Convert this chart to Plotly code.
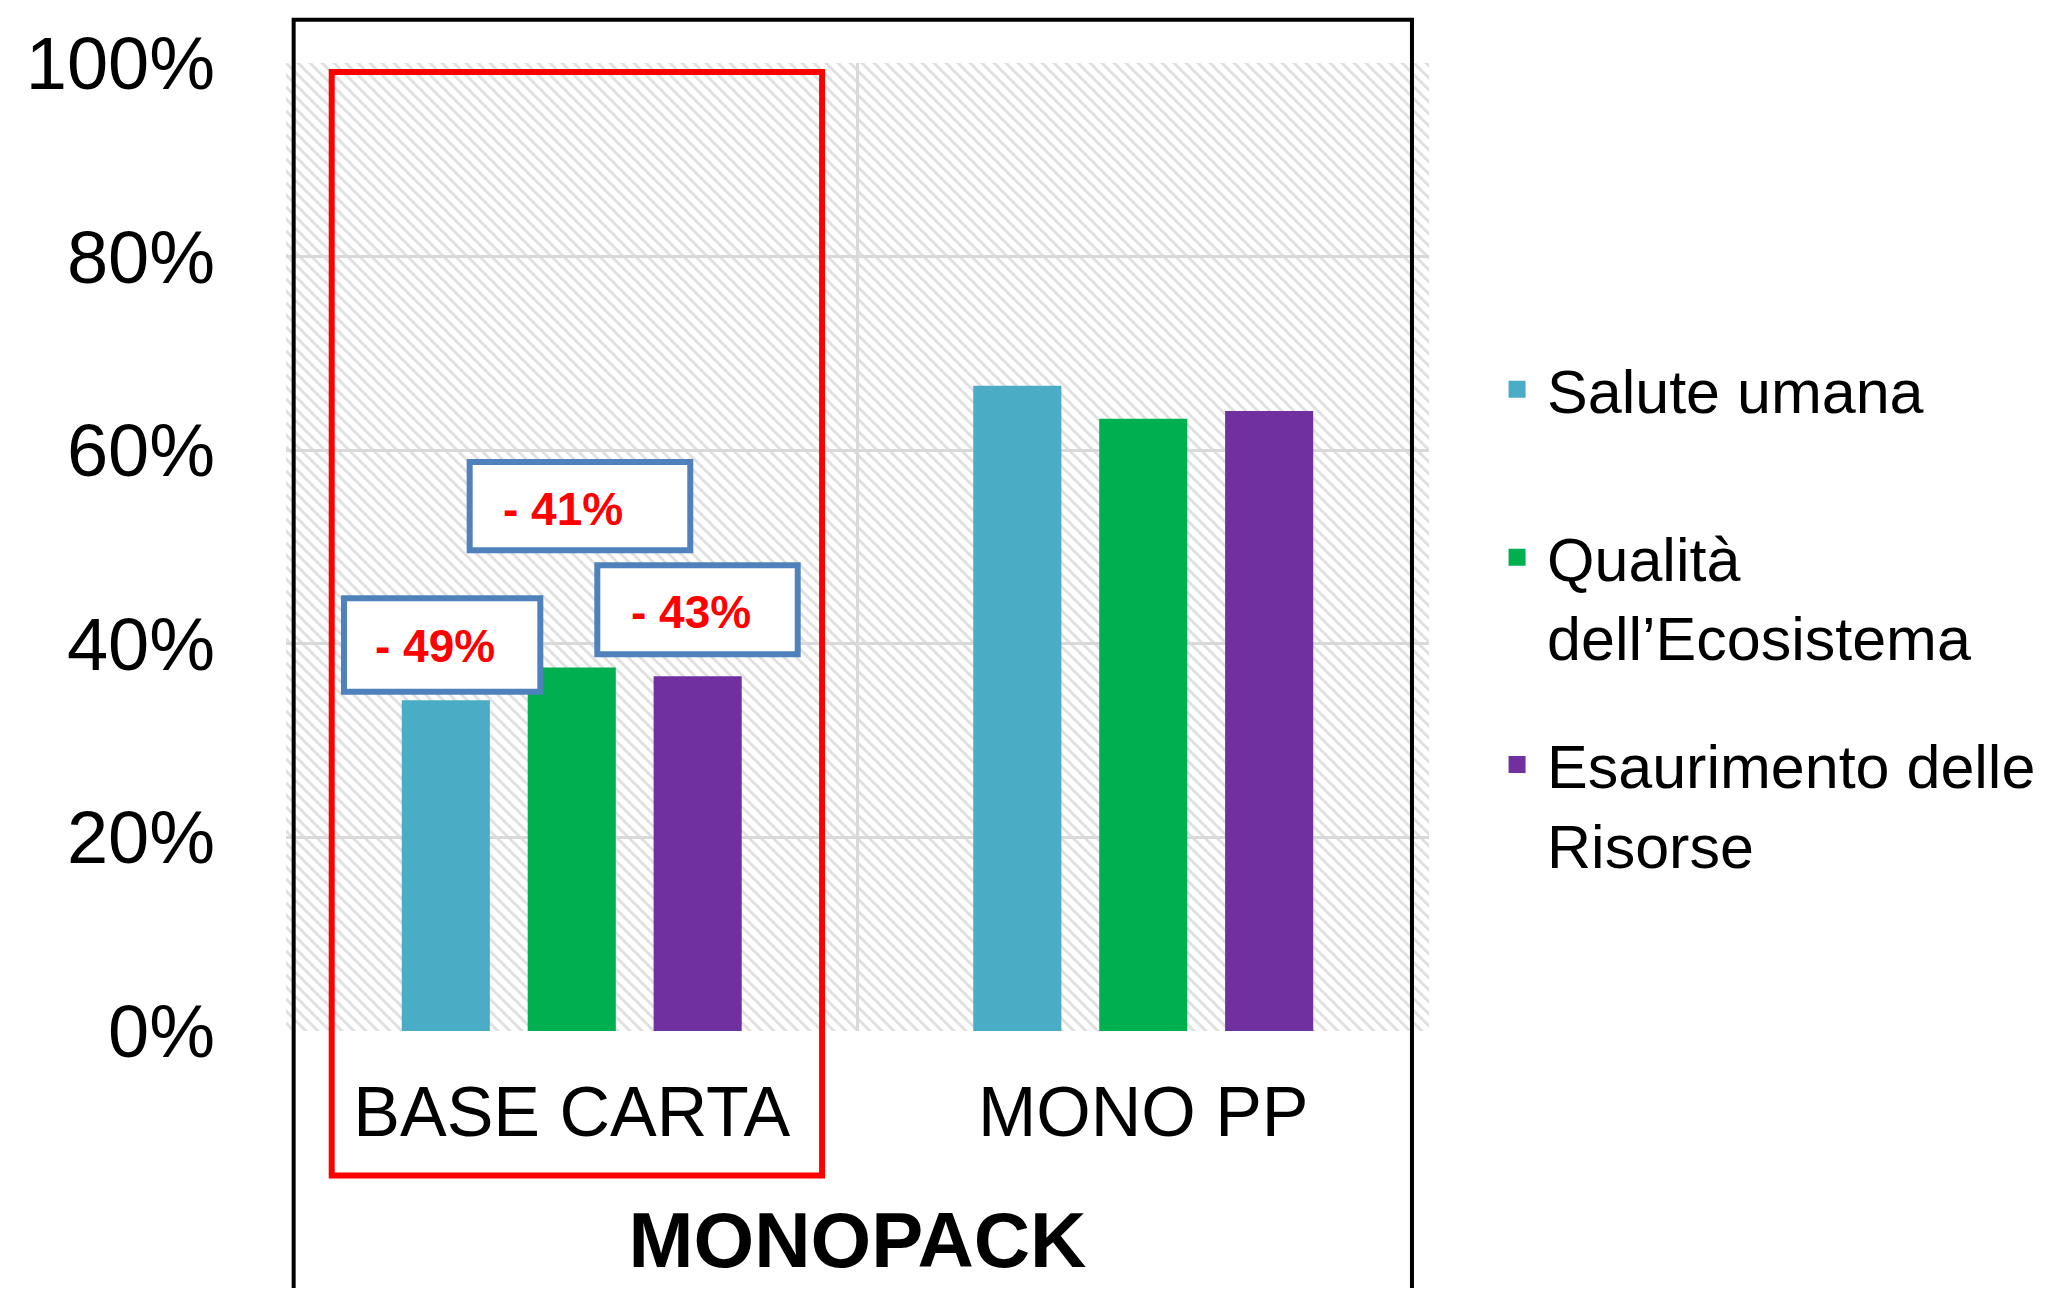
import base64
import plotly.graph_objects as go

# ---- data ----
categories = ["BASE CARTA", "MONO PP"]
series_names = ["Salute umana", "Qualità<br>dell\u2019Ecosistema", "Esaurimento delle<br>Risorse"]
salute_umana = [0.339, 0.664]
qualita_ecosistema = [0.373, 0.630]
esaurimento_risorse = [0.364, 0.638]
series_colors = ["#4bacc6", "#00b050", "#7030a0"]
reduction_labels = ["- 49%", "- 41%", "- 43%"]
y_tick_values = [0, 0.2, 0.4, 0.6, 0.8, 1.0]
axis_title = "MONOPACK"

FONT = "Liberation Sans, Arial, sans-serif"
W, H = 2040, 1280
L, T = 278, 55
PW, PH = 1143, 968
R, B = W - L - PW, H - T - PH

legend_ids = ["legend", "legend2", "legend3"]
legend_tops = [0.7106, 0.537, 0.323]

fig = go.Figure()
for i, (name, vals) in enumerate(zip(series_names, [salute_umana, qualita_ecosistema, esaurimento_risorse])):
    fig.add_trace(go.Bar(
        x=categories, y=vals, name=name,
        marker=dict(color=series_colors[i], line=dict(color=series_colors[i], width=5)),
        legend=legend_ids[i],
    ))

# hatched plot background (diagonal stripes) as an SVG image under the plot area
svg = (
    f"<svg xmlns='http://www.w3.org/2000/svg' width='{PW}' height='{PH}'>"
    "<defs><pattern id='h' width='12' height='12' patternUnits='userSpaceOnUse'>"
    "<path d='M0,0 L12,12 M-2,10 L2,14 M10,-2 L14,2' stroke='#e0e0e0' stroke-width='3'/>"
    "</pattern></defs><rect width='100%' height='100%' fill='url(#h)'/></svg>"
)
src = "data:image/svg+xml;base64," + base64.b64encode(svg.encode()).decode()
fig.add_layout_image(dict(source=src, xref="paper", yref="paper", x=0, y=1,
                          sizex=1, sizey=1, sizing="stretch", layer="below",
                          xanchor="left", yanchor="top"))

# reduction call-outs: blue boxes (shapes) + red bold text (annotations)
box_specs = [
    dict(x0=-0.3985, x1=-0.0550, y0=0.3505, y1=0.4470, tx=-0.2393, ty=0.3982),
    dict(x0=-0.1786, x1=0.2074, y0=0.4966, y1=0.5878, tx=-0.0158, ty=0.5397),
    dict(x0=0.0447, x1=0.3954, y0=0.3892, y1=0.4811, tx=0.2092, ty=0.4332),
]
for label, b in zip(reduction_labels, box_specs):
    fig.add_shape(type="rect", xref="x", yref="y",
                  x0=b["x0"], x1=b["x1"], y0=b["y0"], y1=b["y1"],
                  line=dict(color="#4f81bd", width=6), fillcolor="white", layer="above")
    fig.add_annotation(
        x=b["tx"], y=b["ty"], xref="x", yref="y", text=label, showarrow=False,
        font=dict(family=FONT, size=46, color="#ff0000", weight="bold"),
        xanchor="center", yanchor="middle",
    )

# red highlight box around BASE CARTA
fig.add_shape(type="rect", xref="paper", yref="paper",
              x0=0.040, x1=0.469, y0=-0.1492, y1=0.9907,
              line=dict(color="#ff0000", width=6), fillcolor="rgba(0,0,0,0)", layer="above")
# black outer frame
fig.add_shape(type="rect", xref="paper", yref="paper",
              x0=0.0067, x1=0.9851, y0=-0.32, y1=1.0447,
              line=dict(color="black", width=4), fillcolor="rgba(0,0,0,0)", layer="above")

legend_style = dict(
    x=1.0508, xanchor="left", yanchor="top",
    font=dict(family=FONT, size=61, color="black"),
    itemwidth=50, valign="top", bgcolor="rgba(0,0,0,0)",
)

fig.update_layout(
    width=W, height=H,
    margin=dict(l=L, r=R, t=T, b=B, autoexpand=False),
    paper_bgcolor="white", plot_bgcolor="rgba(0,0,0,0)",
    barmode="group", bargap=0.339, bargroupgap=0.34,
    font=dict(family=FONT, color="black"),
    showlegend=True,
    legend=dict(y=legend_tops[0], **legend_style),
    legend2=dict(y=legend_tops[1], **legend_style),
    legend3=dict(y=legend_tops[2], **legend_style),
    xaxis=dict(
        type="category", range=[-0.5, 1.5], tickson="boundaries",
        showgrid=True, gridcolor="#d9d9d9", gridwidth=3,
        ticks="", showline=False, zeroline=False,
        tickfont=dict(family=FONT, size=70, color="black"),
        ticklabelstandoff=34,
        title=dict(text=f"<b>{axis_title}</b>", font=dict(family=FONT, size=78, color="black"), standoff=62),
    ),
    yaxis=dict(
        range=[0, 1], tickvals=y_tick_values, tickformat=".0%",
        showgrid=True, gridcolor="#d9d9d9", gridwidth=3,
        zeroline=False, showline=False, ticks="",
        tickfont=dict(family=FONT, size=74, color="black"),
        ticklabelstandoff=70,
    ),
)

fig.write_html("out.html")
